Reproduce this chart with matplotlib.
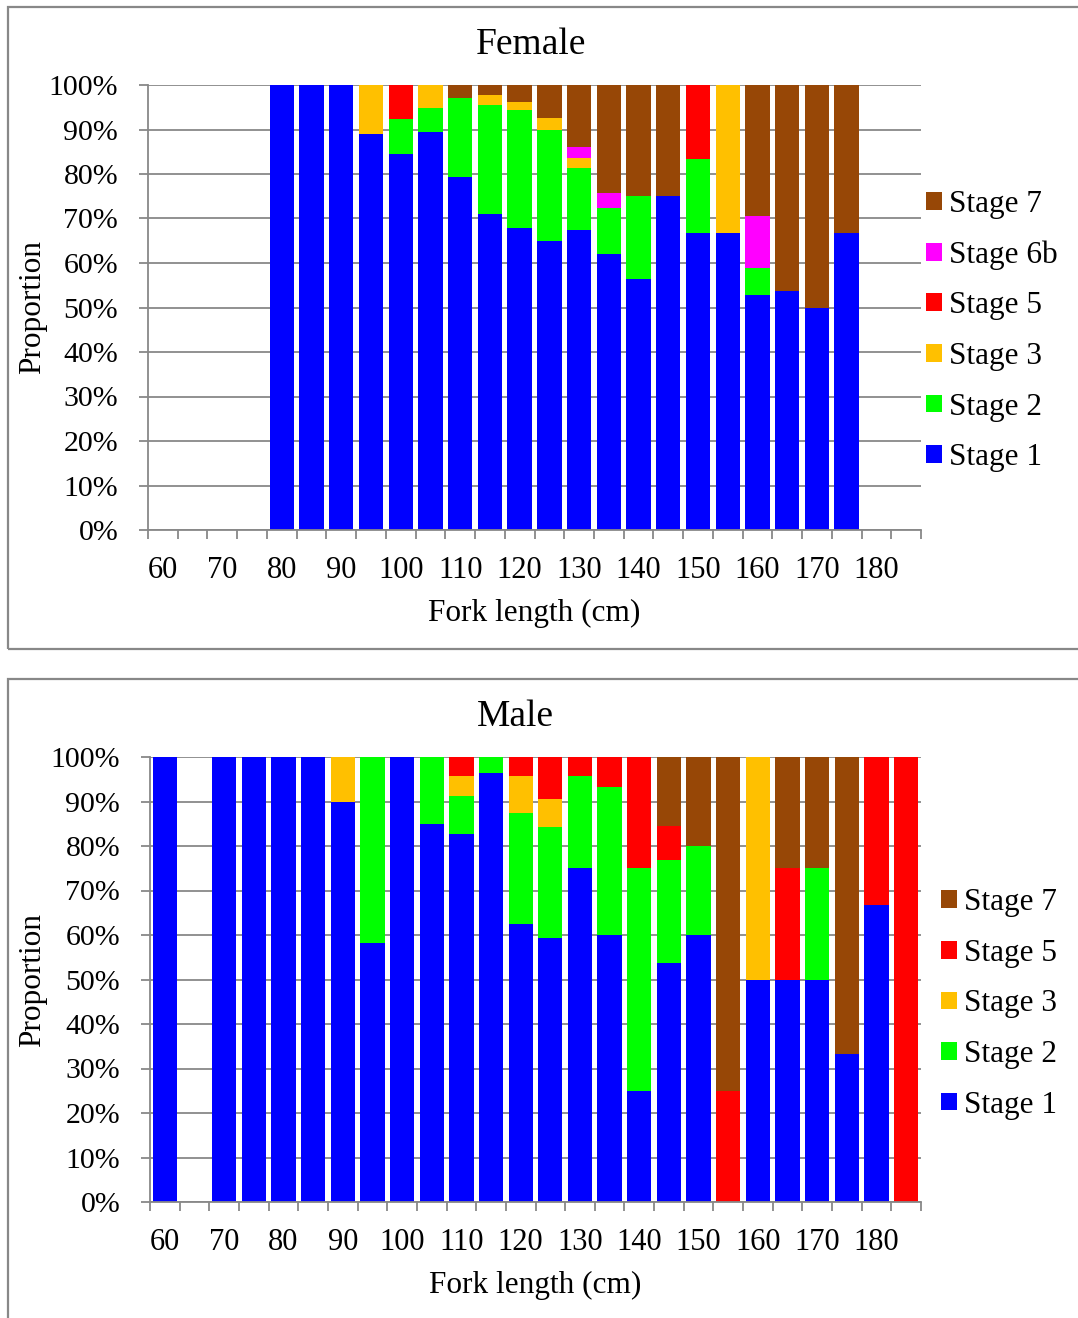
import matplotlib
matplotlib.use("Agg")
from matplotlib import pyplot as plt
from matplotlib.patches import Rectangle
import numpy as np

# classes de comprimento (cm)
comprimentos = list(range(60, 190, 5))
rotulos_x = ['60', '70', '80', '90', '100', '110', '120', '130', '140', '150', '160', '170', '180']
rotulos_y = ['0%', '10%', '20%', '30%', '40%', '50%', '60%', '70%', '80%', '90%', '100%']

# Femea (%), de 60 a 185 cm
femea_s1 = [0, 0, 0, 0, 100, 100, 100, 88.9, 84.6, 89.5, 79.4, 71.0, 67.8, 65.0, 67.4, 62.0, 56.3, 75.0, 66.7, 66.7, 52.9, 53.8, 50.0, 66.7, 0, 0]
femea_s2 = [0, 0, 0, 0, 0, 0, 0, 0, 7.7, 5.3, 17.6, 24.4, 26.5, 24.9, 13.9, 10.4, 18.7, 0, 16.7, 0, 5.9, 0, 0, 0, 0, 0]
femea_s3 = [0, 0, 0, 0, 0, 0, 0, 11.1, 0, 5.2, 0, 2.4, 1.9, 2.6, 2.4, 0, 0, 0, 0, 33.3, 0, 0, 0, 0, 0, 0]
femea_s5 = [0, 0, 0, 0, 0, 0, 0, 0, 7.7, 0, 0, 0, 0, 0, 0, 0, 0, 0, 16.6, 0, 0, 0, 0, 0, 0, 0]
femea_s6b = [0, 0, 0, 0, 0, 0, 0, 0, 0, 0, 0, 0, 0, 0, 2.3, 3.4, 0, 0, 0, 0, 11.7, 0, 0, 0, 0, 0]
femea_s7 = [0, 0, 0, 0, 0, 0, 0, 0, 0, 0, 3.0, 2.2, 3.8, 7.5, 14.0, 24.2, 25.0, 25.0, 0, 0, 29.5, 46.2, 50.0, 33.3, 0, 0]

# Macho (%), de 60 a 185 cm
macho_s1 = [100, 0, 100, 100, 100, 100, 90, 58.3, 100, 85, 82.6, 96.5, 62.5, 59.3, 75, 60, 25, 53.8, 60, 0, 50, 50, 50, 33.3, 66.7, 0]
macho_s2 = [0, 0, 0, 0, 0, 0, 0, 41.7, 0, 15, 8.7, 3.5, 25, 25, 20.8, 33.3, 50, 23.1, 20, 0, 0, 0, 25, 0, 0, 0]
macho_s3 = [0, 0, 0, 0, 0, 0, 10, 0, 0, 0, 4.4, 0, 8.3, 6.3, 0, 0, 0, 0, 0, 0, 50, 0, 0, 0, 0, 0]
macho_s5 = [0, 0, 0, 0, 0, 0, 0, 0, 0, 0, 4.3, 0, 4.2, 9.4, 4.2, 6.7, 25, 7.7, 0, 25, 0, 25, 0, 0, 33.3, 100]
macho_s7 = [0, 0, 0, 0, 0, 0, 0, 0, 0, 0, 0, 0, 0, 0, 0, 0, 0, 15.4, 20, 75, 0, 25, 25, 66.7, 0, 0]

cores = {'Stage 1': '#0000FF', 'Stage 2': '#00FF00', 'Stage 3': '#FFC000',
         'Stage 5': '#FF0000', 'Stage 6b': '#FF00FF', 'Stage 7': '#974706'}
cinza = '#888888'
fonte = 'Liberation Serif'

plt.rcParams['font.family'] = [fonte, 'DejaVu Serif']

fig = plt.figure(figsize=(10.78, 13.18), dpi=100)
W, H = 1078, 1318

# molduras dos dois graficos
fig.patches.append(Rectangle((8 / W, 1 - 649 / H), 1.2, (649 - 7) / H, transform=fig.transFigure,
                             fill=False, edgecolor=cinza, linewidth=1.6))
fig.patches.append(Rectangle((8 / W, -0.1), 1.2, 0.1 + (1318 - 679) / H, transform=fig.transFigure,
                             fill=False, edgecolor=cinza, linewidth=1.6))


def desenha(ax, series, titulo, tit_xy, ylab_y, xlab_xy, leg_xy):
    x = np.arange(len(comprimentos))
    base = np.zeros(len(comprimentos))
    barras = []
    for nome, valores in series:
        v = np.array(valores) / 100.0
        b = ax.bar(x, v, width=0.82, bottom=base, color=cores[nome], label=nome,
                   edgecolor='none', zorder=2)
        barras.append(b)
        base = base + v

    ax.set_xlim(-0.5, len(comprimentos) - 0.5)
    ax.set_ylim(0, 1)
    ax.set_axisbelow(True)
    ax.yaxis.grid(True, color=cinza, linewidth=1.3, zorder=0)
    for lado in ['top', 'right']:
        ax.spines[lado].set_visible(False)
    for lado in ['left', 'bottom']:
        ax.spines[lado].set_color(cinza)
        ax.spines[lado].set_linewidth(1.3)

    ax.set_yticks(np.linspace(0, 1, 11))
    ax.set_yticklabels(rotulos_y, fontsize=21.5)
    ax.tick_params(axis='y', length=6.5, width=1.3, color=cinza, pad=15)

    # marcas nos limites das classes, rotulos no centro
    ax.set_xticks(np.arange(-0.5, len(comprimentos), 1.0))
    ax.set_xticklabels([])
    ax.tick_params(axis='x', which='major', length=6.5, width=1.3, color=cinza)
    ax.set_xticks(np.arange(0, len(comprimentos), 2), minor=True)
    ax.set_xticklabels(rotulos_x, minor=True, fontsize=22)
    ax.tick_params(axis='x', which='minor', length=0, pad=18.5)

    fig.text(tit_xy[0] / W, 1 - tit_xy[1] / H, titulo, fontsize=27, ha='center', va='center')
    fig.text(33 / W, 1 - ylab_y / H, 'Proportion', fontsize=22.5, rotation=90, ha='center', va='center')
    fig.text(xlab_xy[0] / W, 1 - xlab_xy[1] / H, 'Fork length (cm)', fontsize=22.5, ha='center', va='center')

    alças = barras[::-1]
    ax.legend(alças, [b.get_label() for b in alças], loc='center left',
              bbox_to_anchor=(leg_xy[0] / W, 1 - leg_xy[1] / H), bbox_transform=fig.transFigure,
              frameon=False, fontsize=22.5, handlelength=0.5, handleheight=0.5,
              handletextpad=0.25, labelspacing=0.69, borderpad=0, borderaxespad=0)


ax1 = fig.add_axes([148 / W, 1 - 530 / H, (921 - 148) / W, (530 - 85) / H])
desenha(ax1, [('Stage 1', femea_s1), ('Stage 2', femea_s2), ('Stage 3', femea_s3),
              ('Stage 5', femea_s5), ('Stage 6b', femea_s6b), ('Stage 7', femea_s7)],
        'Female', (531, 45), 307, (534, 613), (926, 331))

ax2 = fig.add_axes([150 / W, 1 - 1202 / H, (921 - 150) / W, (1202 - 757) / H])
desenha(ax2, [('Stage 1', macho_s1), ('Stage 2', macho_s2), ('Stage 3', macho_s3),
              ('Stage 5', macho_s5), ('Stage 7', macho_s7)],
        'Male', (515, 717), 980, (535, 1285), (941, 1004))

fig.savefig('out.png', dpi=100)
